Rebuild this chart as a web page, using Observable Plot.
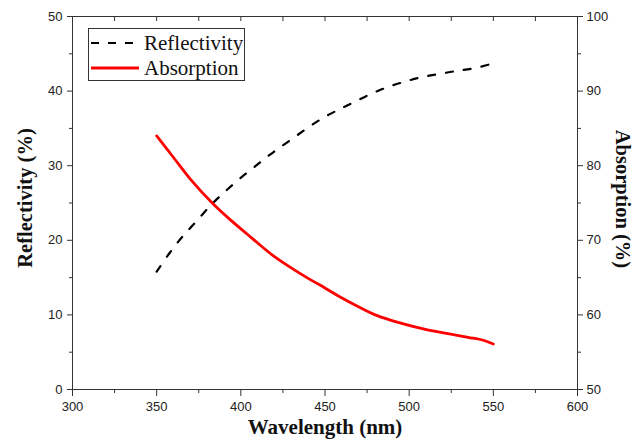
<!DOCTYPE html>
<html>
<head>
<meta charset="utf-8">
<script src="https://cdn.jsdelivr.net/npm/d3@7"></script>
<script src="https://cdn.jsdelivr.net/npm/@observablehq/plot@0.6"></script>
<style>
  html, body { margin: 0; padding: 0; background: #fff; }
  #wrap { position: relative; width: 638px; height: 444px; }
  #legend {
    position: absolute; left: 88px; top: 28px; width: 157px; height: 53px;
    border: 1px solid #333; background: #fff; box-sizing: border-box;
    font-family: "Liberation Serif", "Times New Roman", serif; font-size: 21px; color: #111;
  }
  .row { position: absolute; left: 0; height: 24px; display: flex; align-items: center; }
  .row svg { margin-left: 2px; margin-right: 5px; }
</style>
</head>
<body>
<div id="wrap"></div>
<script>
// ---- data ----
const wavelengthR = [350, 358, 365, 373, 383, 390, 399, 409, 418, 428, 438, 448, 458, 468, 478, 488, 498, 508, 518, 528, 537, 548, 550];
const reflectivity = [15.8, 18.4, 20.4, 22.4, 24.9, 26.4, 28.2, 30.0, 31.6, 33.2, 34.8, 36.3, 37.5, 38.6, 39.7, 40.6, 41.3, 41.9, 42.3, 42.7, 43.0, 43.6, 43.8];

const wavelengthA = [350, 360, 370, 383, 394, 406, 420, 432, 440, 447, 459, 469, 481, 495, 509, 523, 535, 544, 550];
const absorption = [84.0, 81.1, 78.2, 75.0, 72.7, 70.4, 67.8, 66.0, 64.9, 64.0, 62.4, 61.2, 59.9, 58.9, 58.1, 57.5, 57.0, 56.6, 56.1];

const xTicks = [300, 350, 400, 450, 500, 550, 600];
const xMinorTicks = [325, 375, 425, 475, 525, 575];
const xTopTicks = [325, 350, 375, 400, 425, 450, 475, 500, 525, 550, 575];
const leftTicks = [0, 10, 20, 30, 40, 50];
const leftMinorTicks = [5, 15, 25, 35, 45];
const rightTicks = [50, 60, 70, 80, 90, 100];
const rightMinorTicks = [55, 65, 75, 85, 95];
const ABS_OFFSET = 50; // right axis (Absorption) = left axis (Reflectivity) + 50

const reflData = wavelengthR.map((w, i) => ({w, v: reflectivity[i]}));
const absData = wavelengthA.map((w, i) => ({w, v: absorption[i]}));

const axisStroke = "#333";
const titleFont = "Liberation Serif, Times New Roman, serif";

const chart = Plot.plot({
  width: 638,
  height: 444,
  marginLeft: 72,
  marginRight: 61,
  marginTop: 16,
  marginBottom: 55,
  style: {fontFamily: "Liberation Sans, Arial, sans-serif", fontSize: "13px", color: "#222", background: "#fff"},
  x: {domain: [300, 600], axis: null},
  y: {domain: [0, 50], axis: null},
  marks: [
    Plot.frame({stroke: axisStroke, strokeWidth: 1}),
    // bottom axis
    Plot.axisX({anchor: "bottom", ticks: xTicks, tickSize: 7, tickPadding: 5, stroke: axisStroke, label: null, fill: "#222"}),
    Plot.axisX({anchor: "bottom", ticks: xMinorTicks, tickSize: 4, tickFormat: () => "", stroke: axisStroke, label: null}),
    // top axis (inward ticks)
    Plot.axisX({anchor: "top", ticks: xTopTicks, tickSize: -4, tickFormat: () => "", stroke: axisStroke, label: null}),
    // left axis
    Plot.axisY({anchor: "left", ticks: leftTicks, tickSize: 5, tickPadding: 5, stroke: axisStroke, label: null, fill: "#222"}),
    Plot.axisY({anchor: "left", ticks: leftMinorTicks, tickSize: 3, tickFormat: () => "", stroke: axisStroke, label: null}),
    // right axis (absorption)
    Plot.axisY({anchor: "right", ticks: rightTicks.map(t => t - ABS_OFFSET), tickFormat: d => String(d + ABS_OFFSET), tickSize: 5, tickPadding: 4, stroke: axisStroke, label: null, fill: "#222"}),
    Plot.axisY({anchor: "right", ticks: rightMinorTicks.map(t => t - ABS_OFFSET), tickSize: 3, tickFormat: () => "", stroke: axisStroke, label: null}),
    // data
    Plot.line(reflData, {x: "w", y: "v", stroke: "#000", strokeWidth: 2.2, strokeDasharray: "7,11", curve: "catmull-rom"}),
    Plot.line(absData, {x: "w", y: d => d.v - ABS_OFFSET, stroke: "#ff0000", strokeWidth: 2.8, curve: "catmull-rom"}),
    // axis titles
    Plot.text(["Wavelength (nm)"], {frameAnchor: "bottom", dy: 44, text: d => d, textAnchor: "middle", fontFamily: titleFont, fontWeight: "bold", fontSize: 21, fill: "#111"}),
    Plot.text(["Reflectivity (%)"], {frameAnchor: "left", dx: -47, dy: -5, rotate: -90, textAnchor: "middle", text: d => d, fontFamily: titleFont, fontWeight: "bold", fontSize: 20.5, fill: "#111"}),
    Plot.text(["Absorption (%)"], {frameAnchor: "right", dx: 45, dy: -4, rotate: 90, textAnchor: "middle", text: d => d, fontFamily: titleFont, fontWeight: "bold", fontSize: 20.5, fill: "#111"})
  ]
});

const wrap = document.getElementById("wrap");
wrap.appendChild(chart);

const legend = document.createElement("div");
legend.id = "legend";
legend.innerHTML = `
  <div class="row" style="top:2px">
    <svg width="48" height="10"><line x1="0" y1="5" x2="46" y2="5" stroke="#000" stroke-width="2.2" stroke-dasharray="8,9"/></svg>
    <span>Reflectivity</span>
  </div>
  <div class="row" style="top:27px">
    <svg width="48" height="10"><line x1="0" y1="5" x2="48" y2="5" stroke="#ff0000" stroke-width="2.8"/></svg>
    <span>Absorption</span>
  </div>`;
wrap.appendChild(legend);
</script>
</body>
</html>
